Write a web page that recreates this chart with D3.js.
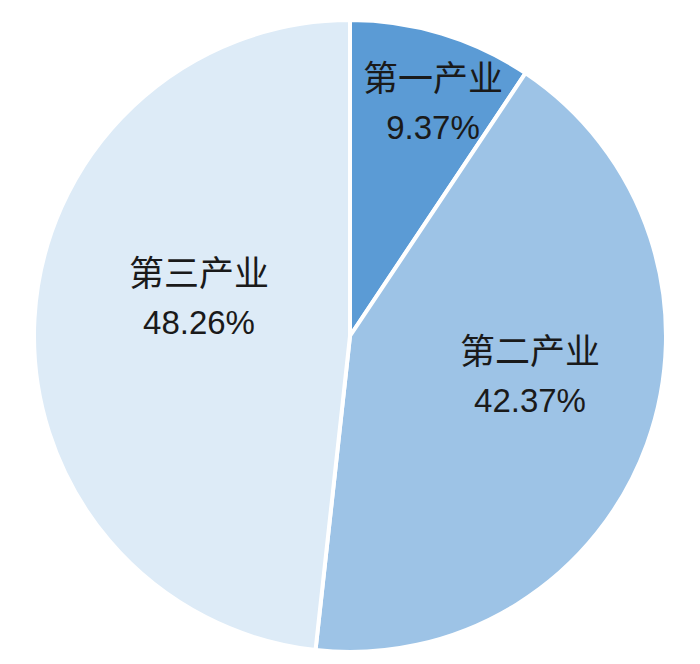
<!DOCTYPE html>
<html>
<head>
<meta charset="utf-8">
<script src="https://cdn.jsdelivr.net/npm/d3@7"></script>
<style>
  html, body { margin: 0; padding: 0; background: #fff; }
</style>
</head>
<body>
<svg id="chart" width="700" height="664"></svg>
<script>
// data
var categories = ["第一产业", "第二产业", "第三产业"];
var shares = [9.37, 42.37, 48.26];
var shareLabels = ["9.37%", "42.37%", "48.26%"];
var colors = ["#5b9bd5", "#9dc3e6", "#ddebf7"];

// layout
var cx = 350, cy = 336, radius = 316;
// label block centres relative to the pie centre (Excel "best fit" style)
var labelOffsets = [[83, -234], [180, 39], [-151, -39]];

var svg = d3.select("#chart");
var g = svg.append("g").attr("transform", "translate(" + cx + "," + cy + ")");

var pie = d3.pie().sort(null).value(function(d) { return d; });
var arc = d3.arc().innerRadius(0).outerRadius(radius);

var arcs = pie(shares);

g.selectAll("path.slice")
  .data(arcs)
  .enter().append("path")
  .attr("class", "slice")
  .attr("d", arc)
  .attr("fill", function(d, i) { return colors[i]; })
  .attr("stroke", "#fff")
  .attr("stroke-width", 4)
  .attr("stroke-linejoin", "round");

var labels = g.selectAll("g.label")
  .data(arcs)
  .enter().append("g")
  .attr("class", "label")
  .attr("transform", function(d, i) {
    return "translate(" + labelOffsets[i][0] + "," + labelOffsets[i][1] + ")";
  });

labels.append("text")
  .attr("text-anchor", "middle")
  .attr("y", -24)
  .attr("dy", "0.36em")
  .style("font-family", "'Noto Sans CJK SC', sans-serif")
  .style("font-size", "35px")
  .style("fill", "#1a1a1a")
  .text(function(d, i) { return categories[i]; });

labels.append("text")
  .attr("text-anchor", "middle")
  .attr("y", 25)
  .attr("dy", "0.36em")
  .style("font-family", "'Liberation Sans', Arial, sans-serif")
  .style("font-size", "33px")
  .style("fill", "#1a1a1a")
  .text(function(d, i) { return shareLabels[i]; });
</script>
</body>
</html>
